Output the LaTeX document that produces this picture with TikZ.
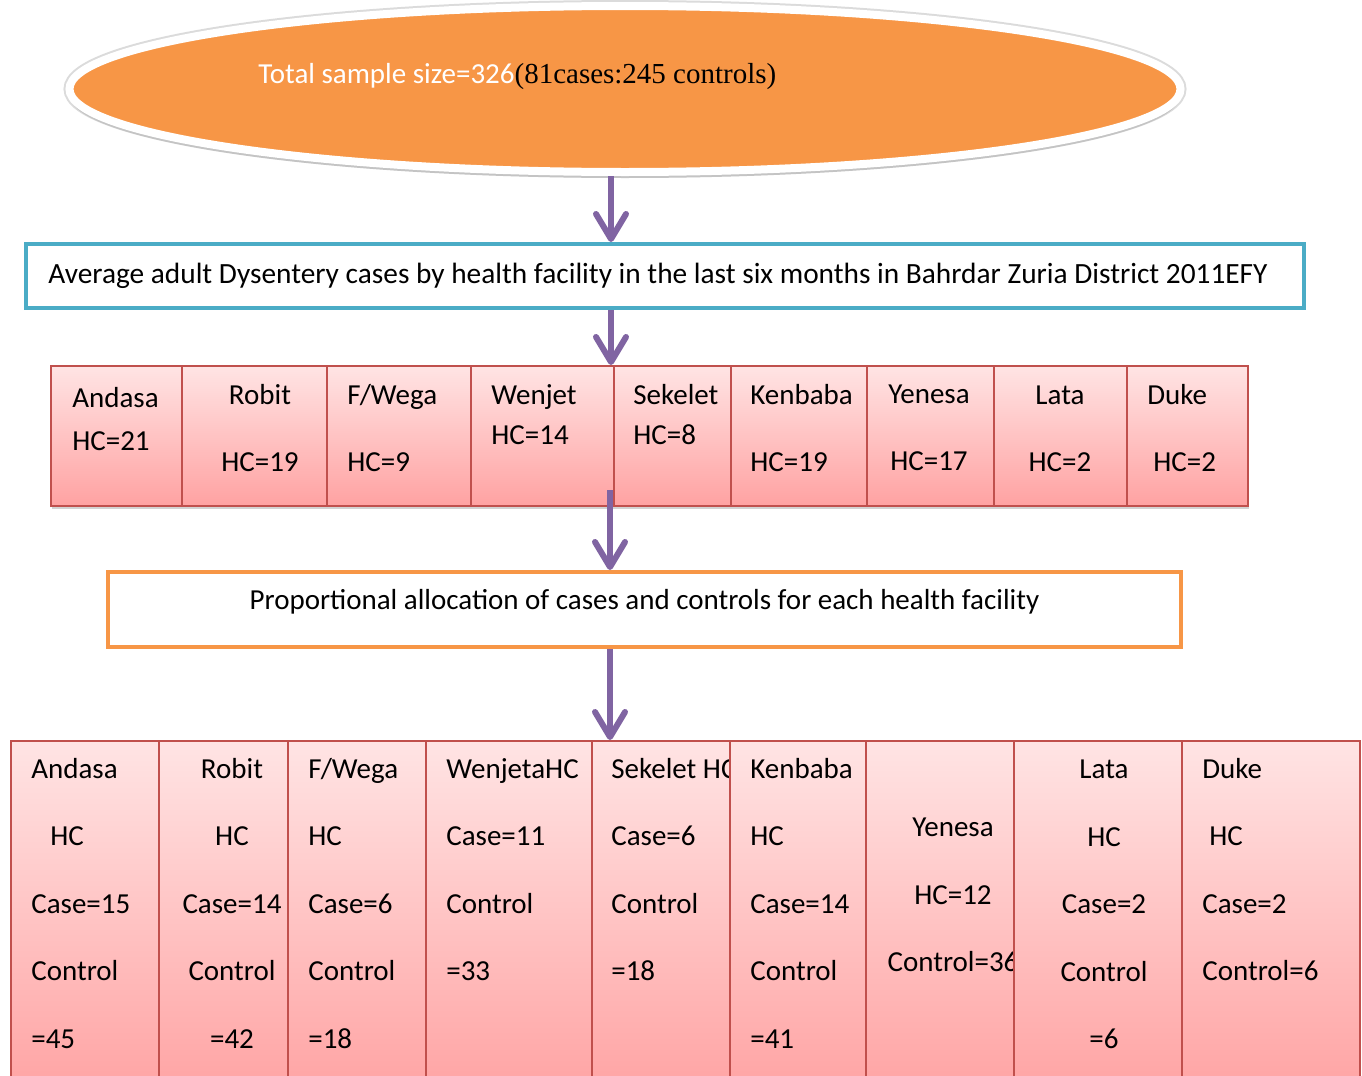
\documentclass[tikz,border=0pt]{standalone}
\usepackage{fontspec}
\setmainfont{Carlito}
\newfontfamily\timesfont{Liberation Serif}
\usetikzlibrary{shapes.geometric, arrows.meta, positioning, shadows}
\newlength{\px}
\setlength{\px}{0.02cm}
\definecolor{ovalorange}{HTML}{F79646}
\definecolor{frameblue}{HTML}{4BACC6}
\definecolor{frameorange}{HTML}{F79646}
\definecolor{arrowpurple}{HTML}{8064A2}
\definecolor{hcborder}{HTML}{C0504D}
\definecolor{hctop}{RGB}{255,228,228}
\definecolor{hcbottom}{RGB}{255,162,162}
\tikzstyle{totaloval} = [ellipse, fill=ovalorange, draw=white, line width=8\px, minimum width=1111\px, minimum height=166\px, preaction={draw=black!14, line width=12\px}, drop shadow={opacity=0.25, shadow xshift=0pt, shadow yshift=-6\px}]
\tikzstyle{infobox} = [rectangle, line width=4\px, inner sep=0pt]
\tikzstyle{hcbox} = [rectangle, draw=hcborder, line width=2\px, top color=hctop, bottom color=hcbottom, anchor=north west, inner sep=0pt]
\tikzstyle{hcrow} = [hcbox, minimum height=140\px, drop shadow={opacity=0.35, shadow xshift=1\px, shadow yshift=-3\px}]
\tikzstyle{allocrow} = [hcbox, minimum height=360\px]
\tikzstyle{hctext} = [inner sep=0pt, align=left, anchor=north west, font=\fontsize{16.5}{23}\selectfont]
\tikzstyle{alloctext} = [inner sep=0pt, align=left, anchor=north west, font=\fontsize{16.5}{38.4}\selectfont]
\tikzstyle{arrow} = [draw=arrowpurple, line width=6\px, -{Straight Barb[round, length=0.5cm, width=0.6cm]}]

\begin{document}
\begin{tikzpicture}[x=0.02cm, y=-0.02cm, font=\fontsize{16.5}{20}\selectfont]
    \useasboundingbox (0,0) rectangle (1362,1075);
    \clip (0,0) rectangle (1362,1075);

    % Total sample
    \node (total) [totaloval] at (625,89) {};
    \node (totaltext) [anchor=base west, inner sep=0pt] at (258,83) {\textcolor{white}{Total sample size=326}{\timesfont(81cases:245 controls)}};

    % Average cases
    \node (average) [infobox, draw=frameblue, minimum width=1278\px, minimum height=64\px, font=\fontsize{16.7}{20}\selectfont] at (665,276) {Average adult Dysentery cases by health facility in the last six months in Bahrdar Zuria District 2011EFY\rule{14\px}{0pt}};

    % Health centres
    \node (hc1) [hcrow, minimum width=131\px] at (50,365) {};
    \node (hc1text) [hctext] at (72,387) {Andasa\\[1.5pt]HC=21};
    \node (hc2) [hcrow, minimum width=145\px] at (181,365) {};
    \node (hc2text) [hctext, anchor=north, align=center] at (260,384) {Robit\\[15pt]HC=19};
    \node (hc3) [hcrow, minimum width=144\px] at (326,365) {};
    \node (hc3text) [hctext] at (347,384) {F/Wega\\[15pt]HC=9};
    \node (hc4) [hcrow, minimum width=143\px] at (470,365) {};
    \node (hc4text) [hctext] at (491,384) {Wenjet\\HC=14};
    \node (hc5) [hcrow, minimum width=117\px] at (613,365) {};
    \node (hc5text) [hctext] at (633,384) {Sekelet\\HC=8};
    \node (hc6) [hcrow, minimum width=136\px] at (730,365) {};
    \node (hc6text) [hctext] at (750,384) {Kenbaba\\[15pt]HC=19};
    \node (hc7) [hcrow, minimum width=127\px] at (866,365) {};
    \node (hc7text) [hctext, anchor=north, align=center] at (929,385) {Yenesa\\[15pt]HC=17};
    \node (hc8) [hcrow, minimum width=133\px] at (993,365) {};
    \node (hc8text) [hctext, anchor=north, align=center] at (1060,386) {Lata\\[15pt]HC=2};
    \node (hc9) [hcrow, minimum width=121\px] at (1126,365) {};
    \node (hc9text) [hctext] at (1147,384) {Duke\\[15pt]\hspace*{6\px}HC=2};

    % Allocation
    \node (alloc) [infobox, draw=frameorange, minimum width=1073\px, minimum height=75\px, text height=12pt, text depth=12pt] at (644.5,609.5) {Proportional allocation of cases and controls for each health facility};

    % Cases and controls
    \node (al1) [allocrow, minimum width=148\px] at (10,740) {};
    \node (al1text) [alloctext] at (31,758) {Andasa\\\hspace*{19\px}HC\\Case=15\\Control\\=45};
    \node (al2) [allocrow, minimum width=129\px] at (158,740) {};
    \node (al2text) [alloctext, anchor=north, align=center] at (232,758) {Robit\\HC\\Case=14\\Control\\=42};
    \node (al3) [allocrow, minimum width=138\px] at (287,740) {};
    \node (al3text) [alloctext] at (308,758) {F/Wega\\HC\\Case=6\\Control\\=18};
    \node (al4) [allocrow, minimum width=166\px] at (425,740) {};
    \node (al4text) [alloctext] at (446,758) {WenjetaHC\\Case=11\\Control\\=33};
    \node (al5) [allocrow, minimum width=138\px] at (591,740) {};
    \node (al5text) [alloctext] at (611,758) {Sekelet HC\\Case=6\\Control\\=18};
    \node (al6) [allocrow, minimum width=136\px] at (729,740) {};
    \node (al6text) [alloctext] at (750,758) {Kenbaba\\HC\\Case=14\\Control\\=41};
    \node (al7) [allocrow, minimum width=148\px] at (865,740) {};
    \node (al7text) [alloctext, anchor=north, align=center] at (953,818) {Yenesa\\HC=12\\Control=36};
    \node (al8) [allocrow, minimum width=168\px] at (1013,740) {};
    \node (al8text) [alloctext, anchor=north, align=center] at (1104,760) {Lata\\HC\\Case=2\\Control\\=6};
    \node (al9) [allocrow, minimum width=178\px] at (1181,740) {};
    \node (al9text) [alloctext] at (1202,758) {Duke\\\hspace*{7\px}HC\\Case=2\\Control=6};

    % Arrows
    \coordinate (spine) at (611,0);
    \coordinate (split) at (610,490);
    \draw [arrow] (total.south -| spine) -- (average.north -| spine);
    \draw [arrow] (average.south -| spine) -- (hc4.north -| spine);
    \draw [arrow] (split) -- (alloc.north -| split);
    \draw [arrow] (alloc.south -| split) -- (al5.north -| split);

\end{tikzpicture}
\end{document}
